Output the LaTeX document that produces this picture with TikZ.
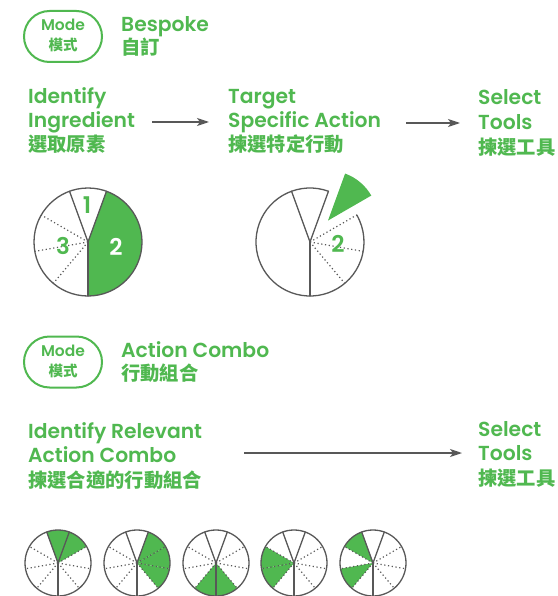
\documentclass[tikz,border=0pt]{standalone}
\usepackage{fontspec}
\setmainfont{Poppins}[UprightFont=* SemiBold]
\newfontfamily\cjk{Noto Sans CJK TC}
\usetikzlibrary{arrows.meta}
\definecolor{pgreen}{RGB}{80,184,80}
\definecolor{pgray}{RGB}{88,88,88}
\tikzset{
 pl/.style={draw=pgray, line width=1.3pt, line cap=round},
 dl/.style={draw=pgray, line width=1.2pt, dash pattern=on 1.2pt off 2.6pt},
 txt/.style={anchor=base west, inner sep=0pt, text=pgreen, font=\fontsize{20.3}{24}\selectfont},
 ctxt/.style={anchor=base west, inner sep=0pt, text=pgreen, font=\cjk\bfseries\fontsize{19.3}{22}\selectfont},
 badge/.style={draw=pgreen, line width=2pt, rounded corners=25.5pt, minimum width=78pt, minimum height=51pt, inner sep=0pt},
 btxt/.style={anchor=base, inner sep=0pt, text=pgreen, font=\fontsize{15.5}{18}\selectfont},
 bctxt/.style={anchor=base, inner sep=0pt, text=pgreen, font=\cjk\bfseries\fontsize{14.5}{16}\selectfont},
 arr/.style={draw=pgray, line width=1.3pt, -{Stealth[length=12pt,width=8pt,inset=3pt]}},
 num/.style={anchor=center, inner sep=0pt, font=\fontsize{23}{24}\selectfont},
}
\newcommand\smallpie[3]{%
 \foreach \s in {#3} \fill[pgreen] (#1,#2) -- ++(-\s:33) arc[start angle=-\s, end angle=-\s-40, radius=33] -- cycle;
 \foreach \a in {310,350,30,150,190,230} \draw[dl] (#1,#2) -- ++(-\a:33);
 \foreach \a in {70,110,270} \draw[pl] (#1,#2) -- ++(-\a:33);
 \draw[pl] (#1,#2) circle[radius=33];
}
\begin{document}
\begin{tikzpicture}[x=1pt,y=-1pt]
\path[use as bounding box] (0,0) rectangle (557,596);
% ---- section 1
\node[badge] (b1) at (63,36.5) {};
\node[btxt] (b1a) at (63,31) {Mode};
\node[bctxt] (b1b) at (63,51) {模式};
\node[txt] (h1) at (121,32) {Bespoke};
\node[ctxt] (h1c) at (121,55) {自訂};

\node[txt] (s1a) at (28,104) {Identify};
\node[txt] (s1b) at (28,128) {Ingredient};
\node[ctxt] (s1c) at (28,152) {選取原素};
\node[txt] (s2a) at (228,104) {Target};
\node[txt] (s2b) at (228,128) {Specific Action};
\node[ctxt] (s2c) at (228,152) {揀選特定行動};
\node[txt] (s3a) at (478,105) {Select};
\node[txt] (s3b) at (478,130) {Tools};
\node[ctxt] (s3c) at (478,154) {揀選工具};
\coordinate (a1s) at (152,122);
\coordinate (a1e) at (209,122);
\coordinate (a2s) at (406,123);
\coordinate (a2e) at (460,123);
\draw[arr] (a1s) -- (a1e);
\draw[arr] (a2s) -- (a2e);

% big pie 1
\coordinate (p1) at (88,242);
\fill[pgreen] (p1) -- ++(90:54) arc[start angle=90, end angle=-70, radius=54] -- cycle;
\foreach \a in {150,190,230} \draw[dl] (p1) -- ++(-\a:54);
\foreach \a in {70,110,270} \draw[pl] (p1) -- ++(-\a:54);
\draw[pl] (p1) circle[radius=54];
\node[num, text=pgreen] (n1) at (87,205) {1};
\node[num, text=pgreen] (n3) at (63,246) {3};
\node[num, text=white] (n2) at (116,247) {2};

% big pie 2
\coordinate (p2) at (310,242);
\fill[pgreen] (p2) ++(-50:28) -- ++(-30:50) arc[start angle=-30, end angle=-70, radius=50] -- cycle;
\foreach \a in {310,350,30} \draw[dl] (p2) -- ++(-\a:54);
\foreach \a in {70,110,270} \draw[pl] (p2) -- ++(-\a:54);
\draw[pl] (p2) ++(-70:54) arc[start angle=-70, end angle=-390, radius=54];
\node[num, text=pgreen] (n4) at (338,244) {2};

% ---- section 2
\node[badge] (b2) at (63,362) {};
\node[btxt] (b2a) at (63,356) {Mode};
\node[bctxt] (b2b) at (63,376) {模式};
\node[txt] (h2) at (121,357) {Action Combo};
\node[ctxt] (h2c) at (121,380) {行動組合};

\node[txt] (t1a) at (28,438) {Identify Relevant};
\node[txt] (t1b) at (28,462) {Action Combo};
\node[ctxt] (t1c) at (28,487) {揀選合適的行動組合};
\node[txt] (t2a) at (478,436) {Select};
\node[txt] (t2b) at (478,460) {Tools};
\node[ctxt] (t2c) at (478,485) {揀選工具};
\coordinate (a3s) at (244,453);
\coordinate (a3e) at (462,453);
\draw[arr] (a3s) -- (a3e);

\smallpie{58}{563}{30,70}
\smallpie{137}{563}{310,350,30}
\smallpie{216}{563}{230,270}
\smallpie{294}{563}{150,190}
\smallpie{373}{563}{110,190}
\end{tikzpicture}
\end{document}
